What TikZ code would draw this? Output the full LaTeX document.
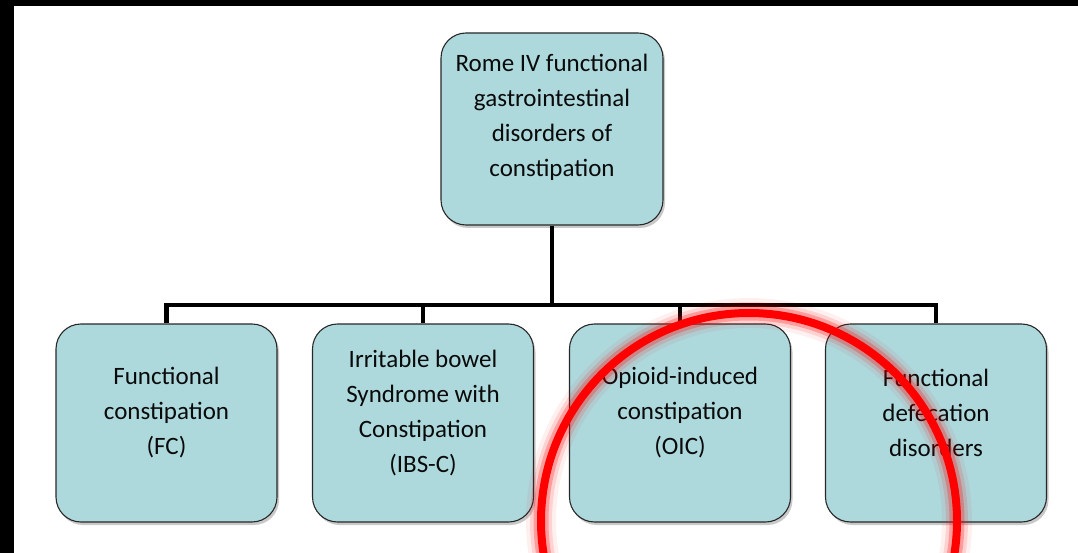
\documentclass[tikz,border=0pt]{standalone}
\usepackage{fontspec}
\setmainfont{Carlito}
\usetikzlibrary{shadows}
\definecolor{boxfill}{RGB}{173,217,221}
\definecolor{boxdraw}{RGB}{40,40,40}
\definecolor{txt}{RGB}{10,10,10}
\definecolor{ring}{RGB}{255,0,0}
\begin{document}
\begin{tikzpicture}[x=1pt,y=-1pt,
  box/.style={draw=boxdraw, line width=1.1pt, fill=boxfill, rounded corners=25pt,
    minimum width=221pt, minimum height=198pt, inner sep=0pt,
    drop shadow={shadow xshift=2pt, shadow yshift=-3pt, opacity=0.35, fill=black!60}},
  boxtext/.style={align=center, text=txt, font=\fontsize{25}{35}\selectfont, inner sep=0pt},
  conn/.style={draw=black, line width=4.5pt, line join=miter}]
\useasboundingbox (0,0) rectangle (1078,553);
\clip (0,0) rectangle (1078,553);
\fill[white] (0,0) rectangle (1078,553);
\fill[black] (0,0) rectangle (1078,6);
\fill[black] (0,0) rectangle (14,553);

\node[box, minimum width=222pt, minimum height=192pt,
  label={[name=topt, boxtext, yshift=12pt]center:{Rome IV functional\\gastrointestinal\\disorders of\\constipation}}]
  (top) at (552,129) {};
\node[box, label={[name=fct, boxtext, yshift=10pt]center:{Functional\\constipation\\(FC)}}]
  (fc) at (166.5,423) {};
\node[box, label={[name=ibst, boxtext, yshift=10pt]center:{Irritable bowel\\Syndrome with\\Constipation\\(IBS-C)}}]
  (ibs) at (423,423) {};
\node[box, label={[name=oict, boxtext, yshift=10pt]center:{Opioid-induced\\constipation\\(OIC)}}]
  (oic) at (680,423) {};
\node[box, label={[name=fddt, boxtext, yshift=10pt]center:{Functional\\defecation\\disorders}}]
  (fdd) at (936,423) {};

\coordinate (bus) at (552,305);
\draw[conn] (top.south) -- (bus);
\draw[conn] (fc.north) -- (fc.north |- bus) -- (fdd.north |- bus) -- (fdd.north);
\draw[conn] (ibs.north |- bus) -- (ibs.north);
\draw[conn] (oic.north |- bus) -- (oic.north);

% red highlight ring with glow
\coordinate (ringc) at (749,521);
\draw[ring, line width=30pt, opacity=0.06] (ringc) circle (208);
\draw[ring, line width=22pt, opacity=0.12] (ringc) circle (208);
\draw[ring, line width=15pt, opacity=0.25] (ringc) circle (208);
\draw[ring, line width=8pt] (ringc) circle (208);
\end{tikzpicture}
\end{document}
